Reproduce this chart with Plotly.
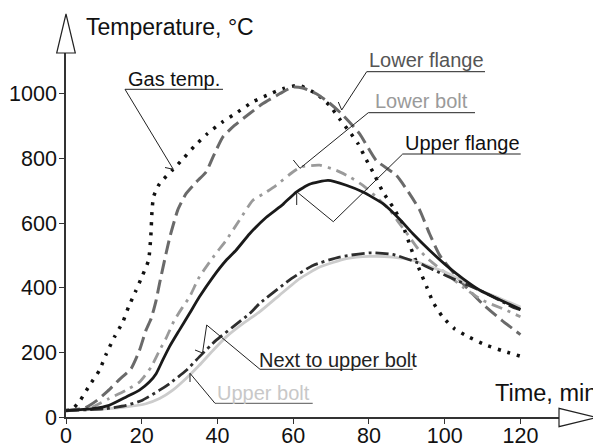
import plotly.graph_objects as go

# ---------------- data ----------------
gas_t = [0, 1.5, 3.8, 6.2, 8.8, 10.6, 12.8, 15, 16.5, 18.3, 20.2, 21.8, 22.4, 22.7, 23.1, 24.7, 28.2, 31, 33.9,
         37.4, 41.1, 45.4, 49.3, 53, 57.3, 61.5, 66.1, 69.6, 72.2, 74.9, 77.1, 79.3, 81.5, 83.7, 86.3, 88.6,
         91.6, 93.4, 95.2, 96.9, 99.5, 102.6, 106.6, 111, 115, 120]
gas_v = [20, 22, 52, 98, 144, 194, 248, 294, 340, 387, 438, 485, 560, 634, 681, 722, 765, 800, 838,
         877, 911, 944, 975, 995, 1016, 1026, 1000, 964, 923, 882, 846, 796, 748, 696, 650, 603,
         506, 454, 404, 356, 309, 273, 246, 222, 206, 188]

lf_t = [0, 5, 8, 11, 14, 17.2, 19.4, 21.1, 22.5, 23.8, 24.7, 26.4, 27.5, 29.5, 31.7, 34.4, 37, 38.8, 41.4,
        44.5, 48.5, 52, 56.4, 59.9, 62.5, 66.1, 69.5, 72.7, 77.5, 81.9, 87.2, 90.7, 93.4, 96, 98.7, 104,
        110, 115, 120]
lf_v = [20, 28, 50, 80, 115, 150, 206, 268, 305, 361, 413, 505, 560, 640, 691, 727, 758, 804, 866,
        902, 939, 970, 1000, 1021, 1018, 1000, 972, 939, 877, 794, 748, 691, 640, 567, 500, 423,
        350, 300, 255]

lb_t = [0, 4, 7, 11.4, 15.9, 19.4, 22.5, 24.7, 26.4, 28.6, 30.8, 32.6, 35.2, 39.2, 42.3, 45.8, 49.3, 52.9,
        55.5, 59.9, 62.1, 67, 71.4, 74.9, 78.4, 81.9, 85.5, 88.1, 90.7, 93, 96, 100.4, 104.8, 110, 116.3, 120]
lb_v = [20, 22, 31, 57, 83, 108, 155, 206, 243, 299, 340, 371, 433, 500, 547, 609, 670, 696,
        717, 758, 774, 779, 763, 743, 717, 681, 640, 598, 557, 520, 485, 444, 402, 361, 330, 310]

uf_t = [0, 7, 11.4, 15.9, 19.4, 22, 23.8, 25.5, 27.3, 29.9, 32.6, 35.2, 38.8, 42.3, 44.9, 48.5, 52.9, 57.3,
        60.8, 64.3, 69.2, 74, 78.4, 83.7, 88.1, 91.6, 96, 100.4, 104.8, 109.3, 114.5, 120]
uf_v = [20, 26, 36, 62, 83, 108, 134, 175, 217, 268, 320, 371, 433, 485, 516, 567, 618, 658,
        696, 720, 732, 717, 696, 660, 612, 567, 516, 469, 428, 392, 363, 333]

ub_t = [0, 11.4, 15.9, 21.1, 24.7, 28.2, 31.7, 35.2, 38.8, 42.3, 46.7, 51.1, 56.4, 61.7, 67, 74, 80.2,
        86.3, 91.6, 96, 100.4, 104.8, 109, 113.7, 120]
ub_v = [20, 26, 31, 41, 57, 83, 119, 160, 206, 248, 289, 325, 377, 428, 464, 490, 497,
        495, 485, 466, 447, 420, 393, 371, 340]

nb_t = [0, 10, 15.9, 20.2, 24.7, 27.3, 31.7, 35.2, 39.6, 44, 48.5, 51.1, 59.5, 65.2, 72.2, 80.2, 86.3,
        93.4, 96.9, 103.1, 109.3, 118, 120]
nb_v = [20, 25, 36, 52, 83, 103, 144, 186, 237, 278, 320, 351, 428, 469, 495, 508, 503,
        475, 456, 423, 392, 340, 332]

x_ticks = [0, 20, 40, 60, 80, 100, 120]
y_ticks = [0, 200, 400, 600, 800, 1000]

FONT = "Liberation Sans, Arial, sans-serif"

# ---------------- geometry helpers (pixel -> paper) ----------------
W, H = 593, 448
L, R, T, B = 66, 34, 53, 31
PW, PH = W - L - R, H - T - B


def px(x):
    return (x - L) / PW


def py(y):
    return (H - B - y) / PH


fig = go.Figure()

series = [
    (gas_t, gas_v, "#111111", 3.5, "3px,7px"),
    (lf_t, lf_v, "#6a6a6a", 3, "14px,6px"),
    (lb_t, lb_v, "#9a9a9a", 2.8, "11px,6px,3px,6px"),
    (ub_t, ub_v, "#cccccc", 2.8, "solid"),
    (nb_t, nb_v, "#2e2e2e", 2.8, "13px,4px,3px,4px"),
    (uf_t, uf_v, "#1a1a1a", 2.8, "solid"),
]
for t, v, c, w, d in series:
    fig.add_trace(go.Scatter(x=t, y=v, mode="lines",
                             line=dict(color=c, width=w, dash=d, shape="spline", smoothing=0.5),
                             hoverinfo="skip", showlegend=False))

x_range_max = PW / 3.787
y_range_max = PH / 0.3232

fig.update_layout(
    width=W, height=H,
    margin=dict(l=L, r=R, t=T, b=B, pad=0, autoexpand=False),
    paper_bgcolor="white", plot_bgcolor="white",
    showlegend=False,
    font=dict(family=FONT, size=21.5, color="#111111"),
    xaxis=dict(range=[0, x_range_max], tickvals=x_ticks, ticktext=[str(v) for v in x_ticks],
               automargin=False, ticklabelstandoff=-7,
               showgrid=False, zeroline=False, showline=True, linecolor="#333333", linewidth=1.5,
               ticks="outside", ticklen=5, tickcolor="#333333", tickwidth=1.2,
               tickfont=dict(family=FONT, size=21.5, color="#111111")),
    yaxis=dict(range=[0, y_range_max], tickvals=y_ticks, ticktext=[str(v) for v in y_ticks],
               automargin=False, ticklabelstandoff=-2,
               showgrid=False, zeroline=False, showline=True, linecolor="#333333", linewidth=1.5,
               ticks="outside", ticklen=5, tickcolor="#333333", tickwidth=1.2,
               tickfont=dict(family=FONT, size=21.5, color="#111111")),
)

shapes = []


def seg(x0, y0, x1, y1, color="#222222", width=1):
    shapes.append(dict(type="line", xref="paper", yref="paper",
                       x0=px(x0), y0=py(y0), x1=px(x1), y1=py(y1),
                       line=dict(color=color, width=width), layer="above"))


# axis arrows (open triangles)
def tri(pts):
    path = "M " + " L ".join(f"{px(a)},{py(b)}" for a, b in pts) + " Z"
    shapes.append(dict(type="path", xref="paper", yref="paper", path=path,
                       fillcolor="white", line=dict(color="#222222", width=1.2), layer="above"))


tri([(56.7, 53), (75.3, 53), (66, 14)])
tri([(559, 408.3), (559, 426.7), (597, 417.5)])

# leader lines
# Gas temp.
seg(125, 89.3, 223, 89.3)
seg(125, 89.3, 173.3, 169.3)
seg(165, 167.5, 173.3, 169.3)
# Lower flange
seg(366.7, 71.7, 485, 71.7)
seg(366.7, 71.7, 341.7, 110)
seg(338.3, 102, 341.7, 110)
# Lower bolt
seg(368.3, 112.7, 475, 112.7)
seg(368.3, 112.7, 300, 168.3)
seg(293.3, 160, 300, 168.3)
# Upper flange
seg(402.7, 154, 520.7, 154)
seg(402.7, 154, 333.3, 221.7)
seg(333.3, 221.7, 296.7, 191.7)
seg(296.7, 191.7, 296.7, 205)
# Next to upper bolt
seg(260, 369.3, 412.7, 369.3)
seg(260, 369.3, 206.7, 325)
seg(206.7, 325, 202.5, 353)
seg(195, 350, 202.5, 353)
# Upper bolt
seg(215, 403.3, 312.7, 403.3, color="#555555")
seg(215, 403.3, 190, 373.3)
seg(190, 373.3, 190, 382)

fig.update_layout(shapes=shapes)

labels = [
    ("Gas temp.", 126, 79, "#111111", 20),
    ("Lower flange", 367, 60, "#555555", 20),
    ("Lower bolt", 372.5, 101.5, "#9a9a9a", 20),
    ("Upper flange", 402.5, 142.5, "#111111", 20),
    ("Next to upper bolt", 256.5, 360, "#222222", 20),
    ("Upper bolt", 214.5, 393, "#c8c8c8", 20),
    ("Temperature, °C", 83.5, 26.5, "#111111", 23),
    ("Time, min", 492.5, 392.5, "#111111", 23.5),
]
for text, x, y, c, s in labels:
    fig.add_annotation(text=text, xref="paper", yref="paper", x=px(x), y=py(y),
                       xanchor="left", yanchor="middle", showarrow=False,
                       font=dict(family=FONT, size=s, color=c))

fig.write_html("out.html")
